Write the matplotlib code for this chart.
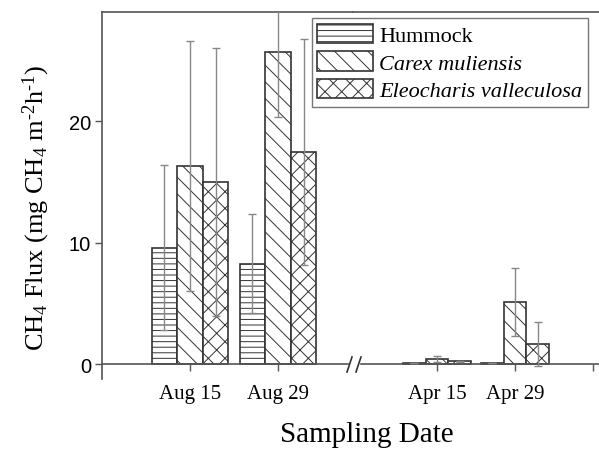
import matplotlib
matplotlib.use('Agg')
import matplotlib.pyplot as plt
from matplotlib.lines import Line2D
import numpy as np

plt.rcParams['font.family'] = 'Liberation Serif'
plt.rcParams['mathtext.fontset'] = 'custom'
plt.rcParams['mathtext.rm'] = 'Liberation Serif'
plt.rcParams['mathtext.it'] = 'Liberation Serif:italic'
plt.rcParams['hatch.linewidth'] = 0.7
plt.rcParams['hatch.color'] = '#666666'

# data (mg CH4 m-2 h-1)
dates_aug = ['Aug 15', 'Aug 29']
dates_apr = ['Apr 15', 'Apr 29', '']
series = ['Hummock', 'Carex muliensis', 'Eleocharis valleculosa']

hummock_aug = [9.6, 8.3]
hummock_aug_err = [6.8, 4.1]
carex_aug = [16.35, 25.7]
carex_aug_err = [10.3, 5.3]
eleo_aug = [15.0, 17.5]
eleo_aug_err = [11.0, 9.3]

hummock_apr = [0.1, 0.15]
hummock_apr_err = [0.0, 0.0]
carex_apr = [0.45, 5.1]
carex_apr_err = [0.25, 2.8]
eleo_apr = [0.25, 1.65]
eleo_apr_err = [0.05, 1.8]

hatches = ['---', '\\\\', 'xx']
W, H = 599, 452

fig = plt.figure(figsize=(W / 100, H / 100), dpi=100)
ax1 = fig.add_axes([102 / W, 72 / H, 251 / W, 367 / H])
ax2 = fig.add_axes([353 / W, 72 / H, 246 / W, 367 / H])

width = 0.29
spine_c = '#555555'


def draw(ax, vals, errs, n):
    x = np.arange(1, n + 1)
    handles = []
    for i, (v, e) in enumerate(zip(vals, errs)):
        xx = x + (i - 1) * width
        b = ax.bar(xx, v, width, color='white', edgecolor='#333333',
                   linewidth=1.2, hatch=hatches[i], label=series[i], zorder=2)
        ax.errorbar(xx, v, yerr=e, fmt='none', ecolor='#888888',
                    elinewidth=1, capsize=3, capthick=1, zorder=3)
        handles.append(b)
    return handles


handles = draw(ax1, [hummock_aug, carex_aug, eleo_aug],
               [hummock_aug_err, carex_aug_err, eleo_aug_err], 2)
draw(ax2, [hummock_apr, carex_apr, eleo_apr],
     [hummock_apr_err, carex_apr_err, eleo_apr_err], 2)

for ax in (ax1, ax2):
    ax.set_ylim(-1.2, 29)
    ax.spines['bottom'].set_position(('data', 0))
    ax.spines['right'].set_visible(False)
    for s in ax.spines.values():
        s.set_color(spine_c)
        s.set_linewidth(1.2)
    ax.tick_params(direction='out', length=5, width=1, color=spine_c)
    ax.tick_params(axis='x', pad=9, labelsize=15)

ax1.set_xlim(0, 2.852)
ax1.set_xticks([1, 2])
ax1.set_xticklabels(dates_aug)
ax1.set_yticks([0, 10, 20])
ax1.tick_params(axis='y', labelsize=14.5, pad=3)
for t in ax1.get_yticklabels():
    t.set_family('Liberation Sans')
ax1.spines['bottom'].set_bounds(0, 2.795)

ax2.set_xlim(-0.077, 3.077)
ax2.set_xticks([1, 2, 3])
ax2.set_xticklabels(dates_apr)
ax2.set_yticks([])
ax2.spines['left'].set_visible(False)
ax2.spines['bottom'].set_bounds(0.026, 3.077)

# axis break marks
for x0 in (347, 356):
    fig.add_artist(Line2D([x0 / W, (x0 + 5) / W], [1 - 373 / H, 1 - 358 / H],
                          color='#333333', linewidth=1.2))

ax1.set_ylabel(r'CH$_4$ Flux (mg CH$_4$ m$^{\text{-2}}$h$^{\text{-1}}$)',
               fontsize=19)
ax1.yaxis.set_label_coords(-0.2, 0.47)
fig.text(367 / W, 1 - 435 / H, 'Sampling Date', ha='center', va='center',
         fontsize=21)

leg = ax2.legend(handles=handles, loc='upper right',
                 bbox_to_anchor=(588 / W, 1 - 19 / H),
                 bbox_transform=fig.transFigure, borderaxespad=0,
                 fontsize=16, handlelength=2.5, handleheight=0.95,
                 handletextpad=0.3, labelspacing=0.25, borderpad=0.25,
                 fancybox=False, framealpha=1, edgecolor='#777777')
leg.get_frame().set_linewidth(1)
for t in leg.get_texts()[1:]:
    t.set_fontstyle('italic')

fig.savefig('out.png', dpi=100)
